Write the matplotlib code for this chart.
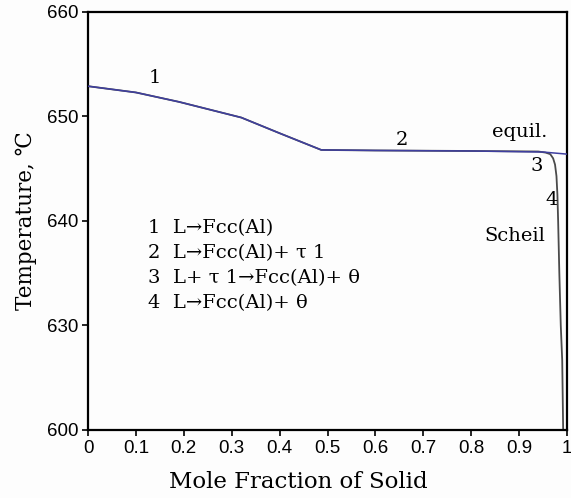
import numpy as np
import matplotlib
matplotlib.use("Agg")
import matplotlib.pyplot as plt

# Solidification paths: equilibrium and Scheil
equil_x = [0.0, 0.10, 0.19, 0.32, 0.40, 0.487, 0.60, 0.80, 0.95, 1.0]
equil_T = [652.9, 652.3, 651.4, 649.9, 648.4, 646.8, 646.75, 646.7, 646.6, 646.4]

scheil_x = [0.0, 0.10, 0.19, 0.32, 0.40, 0.487, 0.60, 0.80, 0.94, 0.955, 0.965,
            0.971, 0.975, 0.978, 0.980, 0.9815, 0.984, 0.987, 0.990, 0.992]
scheil_T = [652.9, 652.3, 651.4, 649.9, 648.4, 646.8, 646.75, 646.7, 646.65, 646.55, 646.4,
            646.0, 645.4, 644.3, 642.5, 640.0, 635.0, 630.0, 620.0, 600.0]

x_ticks = [0, 0.1, 0.2, 0.3, 0.4, 0.5, 0.6, 0.7, 0.8, 0.9, 1.0]
x_ticklabels = ["0", "0.1", "0.2", "0.3", "0.4", "0.5", "0.6", "0.7", "0.8", "0.9", "1"]
y_ticks = [600, 630, 640, 650, 660]

reactions = [
    "1  L\u2192Fcc(Al)",
    "2  L\u2192Fcc(Al)+ \u03c4 1",
    "3  L+ \u03c4 1\u2192Fcc(Al)+ \u03b8",
    "4  L\u2192Fcc(Al)+ \u03b8",
]


# Temperature axis compressed below 630 (600..630 occupies one 10-degree step)
def fwd(t):
    t = np.asarray(t, dtype=float)
    return np.where(t >= 630, t, 630 - (630 - t) / 3.0)


def inv(y):
    y = np.asarray(y, dtype=float)
    return np.where(y >= 630, y, 630 - (630 - y) * 3.0)


serif = ["DejaVu Serif", "DejaVu Sans"]
sans = ["Liberation Sans", "DejaVu Sans"]

fig = plt.figure(figsize=(5.71, 4.98), dpi=100)
fig.patch.set_facecolor("#fdfdfd")
ax = fig.add_axes([88 / 571, (498 - 430) / 498, 479 / 571, 418 / 498])
ax.set_facecolor("#fdfdfd")
ax.set_yscale("function", functions=(fwd, inv))

ax.plot(scheil_x, scheil_T, color="#4a4a4a", lw=1.3, zorder=2)
ax.plot(equil_x, equil_T, color="#3f3fa0", lw=1.1, zorder=3)

ax.set_xlim(0, 1)
ax.set_ylim(600, 660)
ax.set_xticks(x_ticks)
ax.set_xticklabels(x_ticklabels)
ax.set_yticks(y_ticks)
ax.set_yticklabels([str(v) for v in y_ticks])
ax.yaxis.set_minor_locator(matplotlib.ticker.NullLocator())
ax.tick_params(direction="out", length=4, width=1.2, labelsize=13.5, pad=3)
for lab in ax.get_xticklabels() + ax.get_yticklabels():
    lab.set_family(sans)
for s in ax.spines.values():
    s.set_linewidth(1.6)

ax.set_xlabel("Mole Fraction of Solid", family=serif, fontsize=16.5)
ax.xaxis.set_label_coords(0.44, -0.098)
ax.set_ylabel("Temperature, \u2103", family=serif, fontsize=15.5, labelpad=7)

lbl = dict(family=serif, fontsize=14, va="center")
ax.text(0.14, 653.7, "1", ha="center", **lbl)
ax.text(0.655, 647.75, "2", ha="center", **lbl)
ax.text(0.958, 648.5, "equil.", ha="right", **lbl)
ax.text(0.937, 645.3, "3", ha="center", **lbl)
ax.text(0.967, 642.0, "4", ha="center", **lbl)
ax.text(0.954, 638.6, "Scheil", ha="right", **lbl)

for i, r in enumerate(reactions):
    ax.text(0.125, 639.3 - 2.39 * i, r, ha="left", **lbl)

fig.savefig("out.png", dpi=100, facecolor=fig.get_facecolor())
